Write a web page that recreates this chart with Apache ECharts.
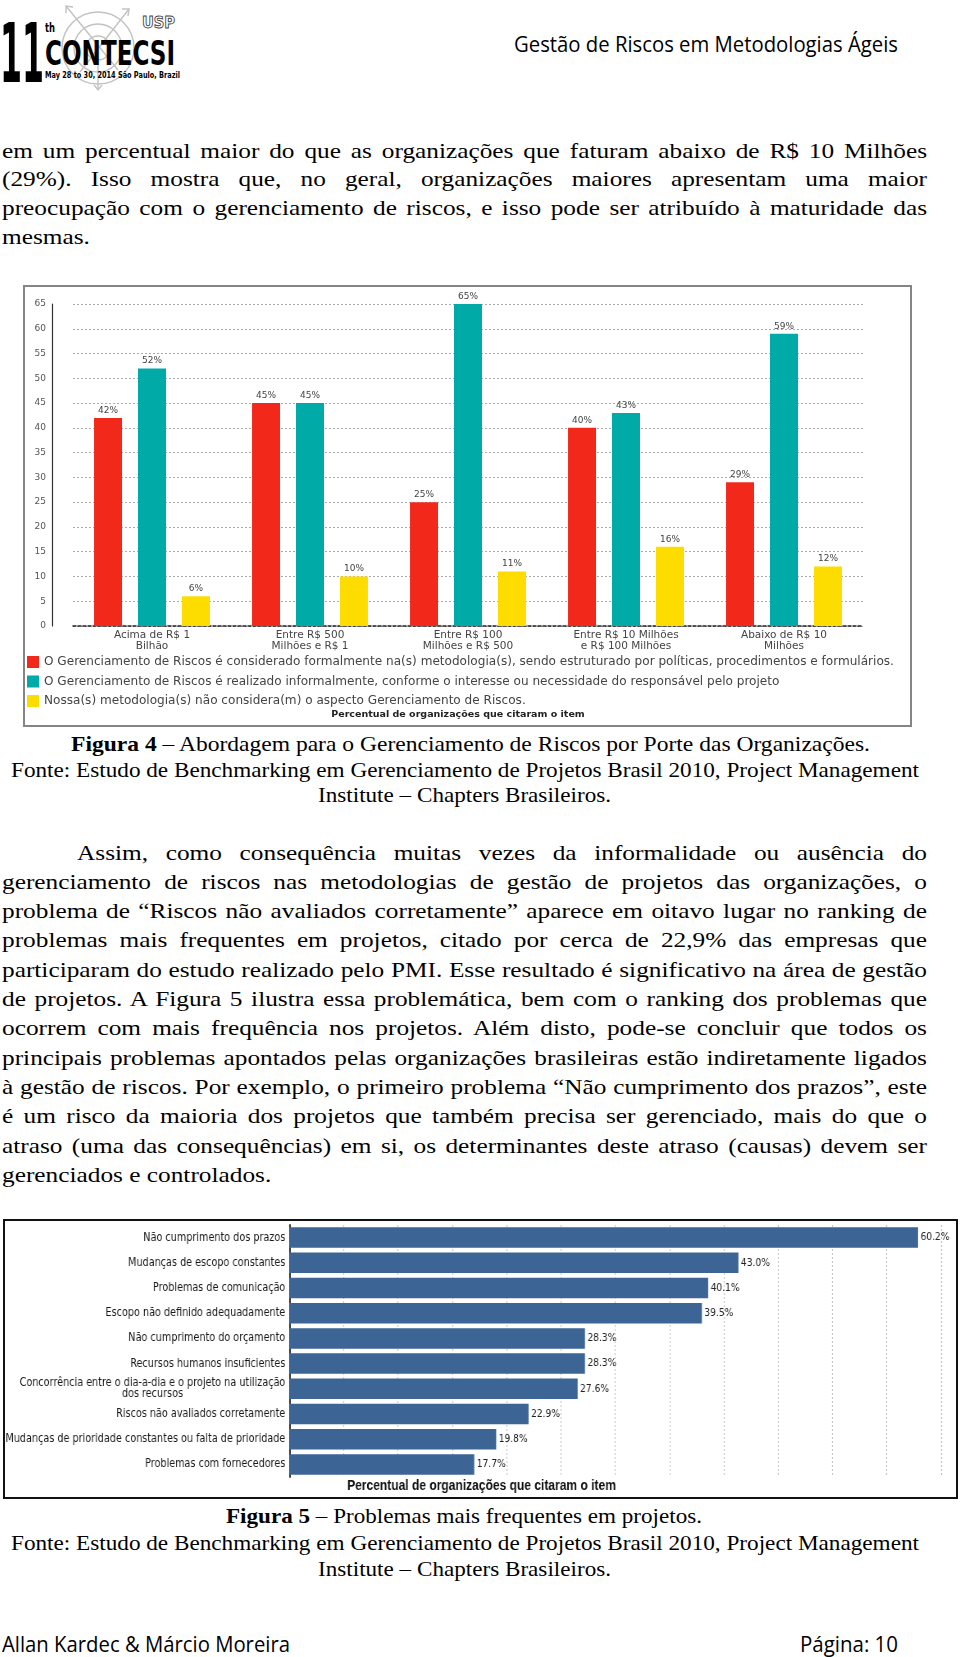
<!DOCTYPE html>
<html><head><meta charset="utf-8">
<script src="https://cdn.jsdelivr.net/npm/echarts@6.0.0/dist/echarts.min.js"></script>
<style>
html,body{margin:0;padding:0;background:#fff;}
#page{position:relative;width:960px;height:1657px;overflow:hidden;background:#fff;}
</style></head>
<body><div id="page"></div>
<script>
// ---------------- DATA ----------------
const revenueBands = ['Acima de R$ 1\nBilhão', 'Entre R$ 500\nMilhões e R$ 1', 'Entre R$ 100\nMilhões e R$ 500', 'Entre R$ 10 Milhões\ne R$ 100 Milhões', 'Abaixo de R$ 10\nMilhões'];
const formalPct = [42, 45, 25, 40, 29];
const informalPct = [52, 45, 65, 43, 59];
const notConsideredPct = [6, 10, 11, 16, 12];
const legendNames = [
  'O Gerenciamento de Riscos é considerado formalmente na(s) metodologia(s), sendo estruturado por políticas, procedimentos e formulários.',
  'O Gerenciamento de Riscos é realizado informalmente, conforme o interesse ou necessidade do responsável pelo projeto',
  'Nossa(s) metodologia(s) não considera(m) o aspecto Gerenciamento de Riscos.'
];
const chart1AxisTitle = 'Percentual de organizações que citaram o item';

const problems = [
  'Não cumprimento dos prazos',
  'Mudanças de escopo constantes',
  'Problemas de comunicação',
  'Escopo não definido adequadamente',
  'Não cumprimento do orçamento',
  'Recursos humanos insuficientes',
  'Concorrência entre o dia-a-dia e o projeto na utilização\ndos recursos',
  'Riscos não avaliados corretamente',
  'Mudanças de prioridade constantes ou falta de prioridade',
  'Problemas com fornecedores'
];
const problemPct = [60.2, 43.0, 40.1, 39.5, 28.3, 28.3, 27.6, 22.9, 19.8, 17.7];
const chart2AxisTitle = 'Percentual de organizações que citaram o item';

const para1 = [
  'em um percentual maior do que as organizações que faturam abaixo de R$ 10 Milhões',
  '(29%). Isso mostra que, no geral, organizações maiores apresentam uma maior',
  'preocupação com o gerenciamento de riscos, e isso pode ser atribuído à maturidade das',
  'mesmas.'
];
const para2 = [
  'Assim, como consequência muitas vezes da informalidade ou ausência do',
  'gerenciamento de riscos nas metodologias de gestão de projetos das organizações, o',
  'problema de “Riscos não avaliados corretamente” aparece em oitavo lugar no ranking de',
  'problemas mais frequentes em projetos, citado por cerca de 22,9% das empresas que',
  'participaram do estudo realizado pelo PMI. Esse resultado é significativo na área de gestão',
  'de projetos. A Figura 5 ilustra essa problemática, bem com o ranking dos problemas que',
  'ocorrem com mais frequência nos projetos. Além disto, pode-se concluir que todos os',
  'principais problemas apontados pelas organizações brasileiras estão indiretamente ligados',
  'à gestão de riscos. Por exemplo, o primeiro problema “Não cumprimento dos prazos”, este',
  'é um risco da maioria dos projetos que também precisa ser gerenciado, mais do que o',
  'atraso (uma das consequências) em si, os determinantes deste atraso (causas) devem ser',
  'gerenciados e controlados.'
];

// ---------------- HELPERS ----------------
const page = document.getElementById('page');
const cv = document.createElement('canvas').getContext('2d');
function tw(t, font){ cv.font = font; return cv.measureText(t).width; }
function hasFont(name){ const s='abcdefghijklmnopqrstuvwxyz ÁÉ 0123'; return tw(s, '20px "' + name + '", monospace') !== tw(s, '20px monospace'); }
function firstFont(list){ for (const f of list) if (hasFont(f)) return f; return list[list.length-1]; }
const SERIF_NAME = firstFont(['Liberation Serif', 'Times New Roman', 'DejaVu Serif']);
const SERIF = '"' + SERIF_NAME + '",serif';
const CAL = '"Open Sans","Noto Sans",sans-serif';

function put(html, o){
  const d = document.createElement('div');
  d.innerHTML = html;
  Object.assign(d.style, {position:'absolute', whiteSpace:'nowrap', fontFamily:o.family, fontSize:o.size+'px',
    lineHeight:Math.round(o.size*1.3)+'px', color:o.color||'#000', fontWeight:o.weight||'normal', left:'0px', top:'0px'});
  page.appendChild(d);
  const nat = d.getBoundingClientRect().width;
  const h = d.offsetHeight;
  d.style.top = (o.y - h/2) + 'px';
  let sx = o.sx || 1;
  if (o.mode === 'fit') sx = (o.x2 - o.x1) / nat;
  if (o.mode === 'justify') {
    const bx = (o.x2 - o.x1) / sx;
    if (nat < bx - 2) {
      d.style.whiteSpace = 'normal'; d.style.width = bx + 'px';
      d.style.textAlign = 'justify'; d.style.textAlignLast = 'justify';
    } else sx = (o.x2 - o.x1) / nat;
  }
  d.style.left = o.x1 + 'px';
  d.style.transformOrigin = '0 50%';
  d.style.transform = 'scale(' + sx + ',' + (o.sy || 1) + ')';
  return d;
}
function box(x, y, w, h){
  const d = document.createElement('div');
  Object.assign(d.style, {position:'absolute', left:x+'px', top:y+'px', width:w+'px', height:h+'px'});
  page.appendChild(d); return d;
}

// ---------------- LOGO ----------------
const logo = document.createElement('div');
logo.style.position = 'absolute'; logo.style.left = '0px'; logo.style.top = '0px';
logo.innerHTML = `
<svg width="185" height="95" xmlns="http://www.w3.org/2000/svg">
 <g stroke="#c2c2c2" fill="none" stroke-width="1.4">
  <circle cx="98" cy="48" r="36"/><circle cx="98" cy="48" r="24"/><circle cx="98" cy="48" r="12"/>
  <line x1="66" y1="6" x2="118" y2="70"/><polyline points="66,13 66,6 73,7"/>
  <line x1="129" y1="9" x2="80" y2="72"/><polyline points="122,9 129,9 128,16"/>
  <line x1="98" y1="58" x2="98" y2="90"/><polyline points="94,85 98,90 102,85"/>
 </g>
 <text x="0" y="82" font-family="DejaVu Sans" font-weight="bold" font-size="82" textLength="44" lengthAdjust="spacingAndGlyphs">11</text>
 <text x="45" y="32" font-family="DejaVu Sans" font-weight="bold" font-size="12" textLength="10" lengthAdjust="spacingAndGlyphs">th</text>
 <text x="45" y="65" font-family="DejaVu Sans" font-weight="bold" font-size="34" textLength="130" lengthAdjust="spacingAndGlyphs">CONTECSI</text>
 <text x="45" y="78" font-family="DejaVu Sans" font-weight="bold" font-size="9.5" textLength="135" lengthAdjust="spacingAndGlyphs">May 28 to 30, 2014 São Paulo, Brazil</text>
 <text x="142" y="28" font-family="DejaVu Sans" font-weight="bold" font-size="15" fill="#fff" stroke="#444" stroke-width="0.9" textLength="33" lengthAdjust="spacingAndGlyphs">USP</text>
</svg>`;
page.appendChild(logo);

// ---------------- PAGE TEXT ----------------
put('Gestão de Riscos em Metodologias Ágeis', {family:CAL, size:21, y:44, x1:514, x2:898, mode:'fit'});
put('Allan Kardec &amp; Márcio Moreira', {family:CAL, size:21, y:1644, x1:2, x2:290, mode:'fit'});
put('Página: 10', {family:CAL, size:21, y:1644, x1:800, x2:898, mode:'fit'});

const SS = 22;
const gsx = 921 / tw(para2[4], SS + 'px ' + SERIF);
const L = 2, R = 927;
para1.forEach((t, i) => {
  const last = i === para1.length - 1;
  put(t, {family:SERIF, size:SS, y:150 + i*28.8, x1:L, x2:R, sx:gsx, mode: last ? 'none' : 'justify'});
});
para2.forEach((t, i) => {
  const last = i === para2.length - 1;
  put(t, {family:SERIF, size:SS, y:852 + i*29.3, x1: i === 0 ? 77 : L, x2:R, sx:gsx, mode: last ? 'none' : 'justify'});
});
const CS = 21;
const fonte = 'Fonte: Estudo de Benchmarking em Gerenciamento de Projetos Brasil 2010, Project Management';
const inst = 'Institute – Chapters Brasileiros.';
put('<b>Figura 4</b> – Abordagem para o Gerenciamento de Riscos por Porte das Organizações.', {family:SERIF, size:CS, y:744, x1:71, x2:870, mode:'fit'});
put(fonte, {family:SERIF, size:CS, y:770, x1:11, x2:919, mode:'fit'});
put(inst, {family:SERIF, size:CS, y:795, x1:318, x2:611, mode:'fit'});
put('<b>Figura 5</b> – Problemas mais frequentes em projetos.', {family:SERIF, size:CS, y:1516, x1:226, x2:702, mode:'fit'});
put(fonte, {family:SERIF, size:CS, y:1543, x1:11, x2:919, mode:'fit'});
put(inst, {family:SERIF, size:CS, y:1569, x1:318, x2:611, mode:'fit'});

// ---------------- CHART 1 ----------------
const SANS = 'DejaVu Sans';
const el1 = box(23, 285, 889, 442);
const f1 = box(23, 285, 889, 442);
Object.assign(f1.style, {border:'2px solid #858585', boxSizing:'border-box', pointerEvents:'none'});
const legSize = 20 * 851 / tw(legendNames[0], '20px "' + SANS + '"');
const t1Size = 20 * 254 / tw(chart1AxisTitle, 'bold 20px "' + SANS + '"');
const RED = '#f2281b', TEAL = '#00aba7', YEL = '#fddd00';
const lab1 = {show:true, position:'top', distance:3, fontSize:9, color:'#444', fontFamily:SANS, formatter: p => p.value + '%'};
const c1 = echarts.init(el1);
c1.setOption({
  animation:false,
  textStyle:{fontFamily:SANS},
  color:[RED, TEAL, YEL],
  title:{text:chart1AxisTitle, left:435, top:430 - t1Size*0.6, textAlign:'center', padding:0,
    textStyle:{fontSize:t1Size, fontWeight:'bold', color:'#222', fontFamily:SANS}},
  legend:{orient:'vertical', left:4, top:371, itemWidth:12, itemHeight:12, itemGap:7.5, icon:'rect', padding:0,
    textStyle:{fontSize:legSize, color:'#444', fontFamily:SANS, lineHeight:12}, data:legendNames},
  grid:{left:50, right:49, top:19, bottom:101, containLabel:false},
  xAxis:{type:'category', data:revenueBands,
    axisLine:{lineStyle:{color:'#222', type:[3,2], width:1.5}}, axisTick:{show:false},
    axisLabel:{interval:0, fontSize:10.5, color:'#444', lineHeight:11, margin:4, fontFamily:SANS}},
  yAxis:{type:'value', min:0, max:65, interval:5, offset:21,
    axisLine:{show:true, lineStyle:{color:'#333', width:1.2}}, axisTick:{show:false},
    axisLabel:{fontSize:9, color:'#555', margin:6, fontFamily:SANS},
    splitLine:{lineStyle:{type:[2,2], color:'#aaa', width:1}}},
  series:[
    {name:legendNames[0], type:'bar', data:formalPct, barWidth:28, barGap:'57%', label:lab1},
    {name:legendNames[1], type:'bar', data:informalPct, barWidth:28, barGap:'57%', label:lab1},
    {name:legendNames[2], type:'bar', data:notConsideredPct, barWidth:28, barGap:'57%', label:lab1}
  ]
});

// ---------------- CHART 2 ----------------
// the reference figure is horizontally compressed (~0.82); draw it wider and squeeze with CSS
const K = 0.82;
const SANS2 = 'DejaVu Sans';
const el2 = box(3, 1219, 955 / K, 280);
el2.style.transformOrigin = '0 0';
el2.style.transform = 'scale(' + K + ',1)';
const f2 = box(3, 1219, 955, 280);
Object.assign(f2.style, {border:'2px solid #111', boxSizing:'border-box', pointerEvents:'none'});
const catSize = 20 * (280 / K) / tw(problems[8], '20px "' + SANS2 + '"');
const valSize = 20 * (29 / K) / tw('60.2%', '20px "' + SANS2 + '"');
const t2Size = 20 * (269 / K) / tw(chart2AxisTitle, 'bold 20px "Liberation Sans"');
const twoLine = problems.find(p => p.includes('\n'));
const twoLineW = Math.max(...twoLine.split('\n').map(s => tw(s, catSize + 'px "' + SANS2 + '"')));
const c2 = echarts.init(el2);
c2.setOption({
  animation:false,
  textStyle:{fontFamily:SANS2},
  title:{text:chart2AxisTitle, left:478.5 / K, top:268 - t2Size*0.6, textAlign:'center', padding:0,
    textStyle:{fontSize:t2Size, fontWeight:'bold', color:'#111', fontFamily:'Liberation Sans'}},
  grid:{left:286 / K, width:652 / K, top:6, bottom:22},
  xAxis:{type:'value', min:0, max:62.4, interval:5.2,
    axisLabel:{show:false}, axisLine:{show:false}, axisTick:{show:false},
    splitLine:{lineStyle:{type:[2,2], color:'#c4c4c4', width:1.2}}},
  yAxis:{type:'category', inverse:true, data:problems,
    axisLine:{lineStyle:{color:'#222', width:1.8}}, axisTick:{show:false},
    axisLabel:{interval:0, fontSize:catSize, color:'#1a1a1a', margin:5, lineHeight:11, fontFamily:SANS2,
      formatter: v => v.includes('\n') ? v.split('\n').map(s => '{c|' + s + '}').join('\n') : v,
      rich:{c:{width:twoLineW, align:'center', fontSize:catSize, lineHeight:11, color:'#1a1a1a', fontFamily:SANS2}}}},
  series:[{type:'bar', data:problemPct, barWidth:20.5, itemStyle:{color:'#3c6595'},
    label:{show:true, position:'right', distance:3, fontSize:valSize, color:'#222', fontFamily:SANS2,
      formatter: p => p.value.toFixed(1) + '%'}}]
});
</script>
</body></html>
